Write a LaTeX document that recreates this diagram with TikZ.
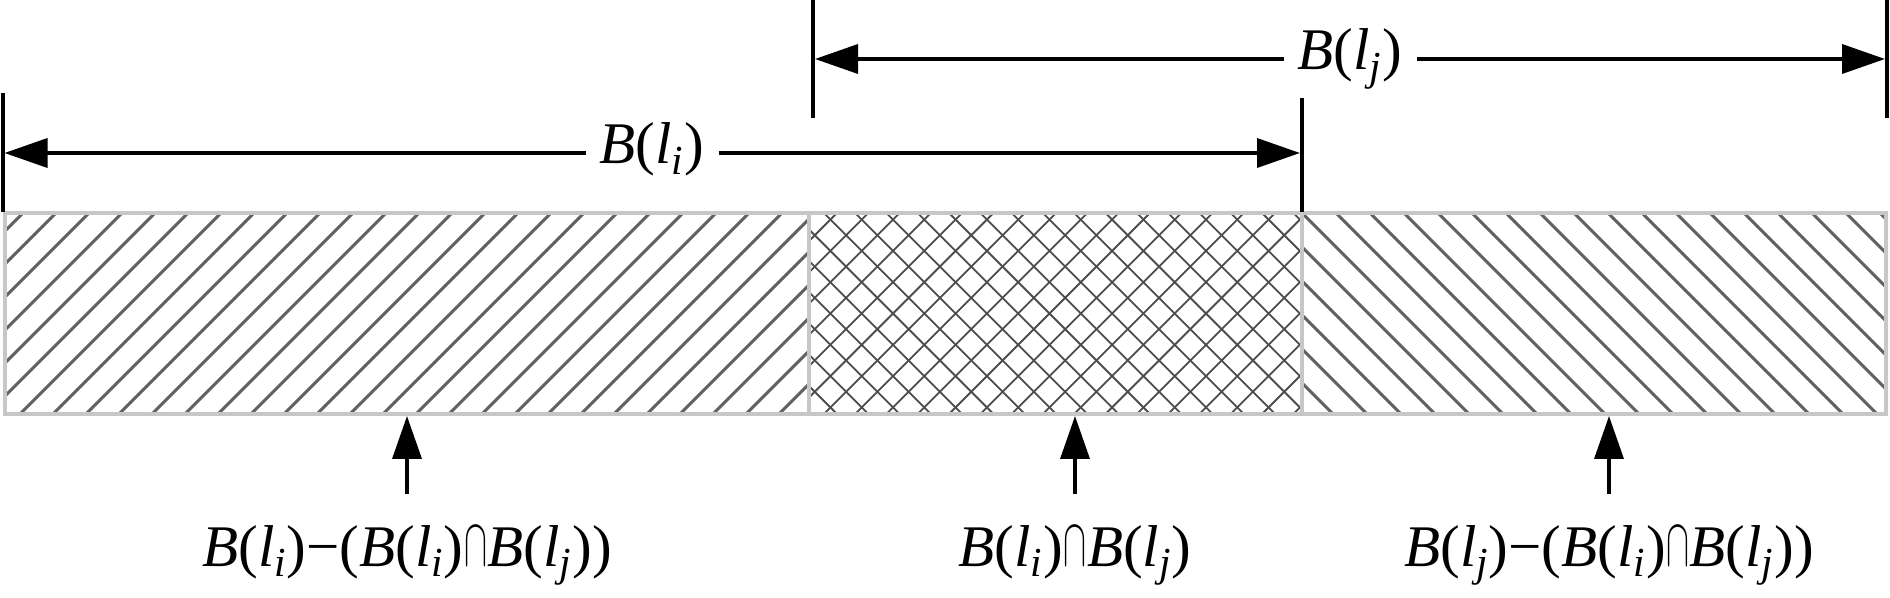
\documentclass[tikz,border=0pt]{standalone}
\usepackage{graphicx}
\usepackage{fontspec}
\setmainfont{Liberation Serif}
\usetikzlibrary{arrows.meta}
\newcommand\Bl[1]{\textit{B}(\textit{l}\textsubscript{\textit{#1}})}
\newcommand\capsym{\kern0.3pt\resizebox{11.5pt}{19pt}{$\cap$}\kern0.3pt}
\begin{document}
\begin{tikzpicture}[x=0.5pt,y=-0.5pt,
  hatch/.style={line width=1.5pt,color=black!62},
  xhatch/.style={line width=0.9pt,color=black!70},
  border/.style={line width=2pt,color=black!22},
  extline/.style={line width=2pt,color=black},
  dimarr/.style={line width=1.8pt,-{Triangle[length=21.5pt,width=14.5pt]}},
  lab/.style={font=\fontsize{29.5pt}{34pt}\selectfont,inner sep=0pt,anchor=base},
  dimlab/.style={lab,inner xsep=7pt}]
\useasboundingbox (0,0) rectangle (1890,598);
% hatching
\begin{scope}
  \clip (4.5,213) rectangle (809,414);
  \foreach \k in {-8,...,26} \draw[hatch] ({\k*33+10},424) -- ++(222,-222);
\end{scope}
\begin{scope}
  \clip (809,213) rectangle (1302,414);
  \foreach \k in {19,...,43} \draw[xhatch] ({\k*31.3},424) -- ++(222,-222);
  \foreach \k in {19,...,43} \draw[xhatch] ({\k*31.3},203) -- ++(222,222);
\end{scope}
\begin{scope}
  \clip (1302,213) rectangle (1886,414);
  \foreach \k in {31,...,56} \draw[hatch] ({\k*34},203) -- ++(222,222);
\end{scope}
% region borders
\draw[border] (4.5,213) rectangle (1886,414);
\draw[border] (809,213) -- (809,414);
\draw[border] (1302,213) -- (1302,414);
% extension lines
\coordinate (eA1) at (2.5,93);   \coordinate (eA2) at (2.5,212);
\coordinate (eB1) at (1302,98);  \coordinate (eB2) at (1302,212);
\coordinate (eC1) at (813,0);    \coordinate (eC2) at (813,118);
\coordinate (eD1) at (1887,0);   \coordinate (eD2) at (1887,118);
\draw[extline] (eA1) -- (eA2);
\draw[extline] (eB1) -- (eB2);
\draw[extline] (eC1) -- (eC2);
\draw[extline] (eD1) -- (eD2);
% dimension B(l_i)
\coordinate (liL) at (4.5,153);
\coordinate (liR) at (1300,153);
\node[dimlab] (li) at (652,164) {\Bl{i}};
\draw[dimarr] (li.west |- liL) -- (liL);
\draw[dimarr] (li.east |- liR) -- (liR);
% dimension B(l_j)
\coordinate (ljL) at (815,59);
\coordinate (ljR) at (1885,59);
\node[dimlab] (lj) at (1350,70) {\Bl{j}};
\draw[dimarr] (lj.west |- ljL) -- (ljL);
\draw[dimarr] (lj.east |- ljR) -- (ljR);
% bottom labels
\node[lab] (l1) at (407,566) {\Bl{i}−(\Bl{i}\capsym\Bl{j})};
\node[lab] (l2) at (1075,566) {\Bl{i}\capsym\Bl{j}};
\node[lab] (l3) at (1609,566) {\Bl{j}−(\Bl{i}\capsym\Bl{j})};
\coordinate (t1) at (407,416); \coordinate (s1) at (407,494);
\coordinate (t2) at (1075,416); \coordinate (s2) at (1075,494);
\coordinate (t3) at (1609,416); \coordinate (s3) at (1609,494);
\draw[dimarr] (s1) -- (t1);
\draw[dimarr] (s2) -- (t2);
\draw[dimarr] (s3) -- (t3);
\end{tikzpicture}
\end{document}
